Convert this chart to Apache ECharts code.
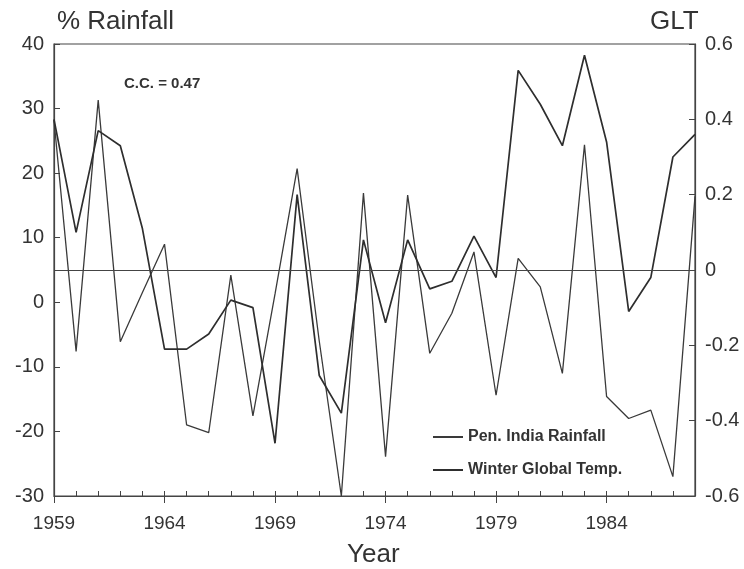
<!DOCTYPE html>
<html>
<head>
<meta charset="utf-8">
<script src="https://cdn.jsdelivr.net/npm/echarts@6/dist/echarts.min.js"></script>
<style>
html,body{margin:0;padding:0;background:#fff;}
#chart{width:744px;height:569px;}
</style>
</head>
<body>
<div id="chart"></div>
<script>
const years = ['1959','1960','1961','1962','1963','1964','1965','1966','1967','1968',
  '1969','1970','1971','1972','1973','1974','1975','1976','1977','1978',
  '1979','1980','1981','1982','1983','1984','1985','1986','1987','1988'];
// Pen. India Rainfall (% departure, left axis)
const rainfall = [28.2, -7.6, 31.3, -6.1, 1.5, 9.0, -19.0, -20.2, 4.2, -17.6,
  1.3, 20.7, -6.0, -30.0, 16.9, -23.9, 16.6, -7.9, -1.7, 7.8,
  -14.4, 6.8, 2.4, -11.0, 24.4, -14.6, -18.0, -16.7, -27.0, 16.4];
// Winter Global Temp. (GLT, right axis)
const glt = [0.40, 0.10, 0.37, 0.33, 0.11, -0.21, -0.21, -0.17, -0.08, -0.10,
  -0.46, 0.20, -0.28, -0.38, 0.08, -0.14, 0.08, -0.05, -0.03, 0.09,
  -0.02, 0.53, 0.44, 0.33, 0.57, 0.34, -0.11, -0.02, 0.30, 0.36];
const seriesNames = ['Pen. India Rainfall', 'Winter Global Temp.'];

const ink = '#333';
const fontReg = "'Liberation Sans', Arial, Helvetica, sans-serif";

const chart = echarts.init(document.getElementById('chart'), null, {renderer: 'canvas'});
chart.setOption({
  backgroundColor: '#ffffff',
  animation: false,
  grid: {left: 54, right: 49, top: 44, bottom: 73, show: true, borderColor: '#444', borderWidth: 1.2, backgroundColor: 'transparent'},
  graphic: [
    {type: 'text', left: 57, top: 9, style: {text: '% Rainfall', font: "26px " + fontReg, fill: ink}},
    {type: 'text', left: 650, top: 9, style: {text: 'GLT', font: "26px " + fontReg, fill: ink}},
    {type: 'text', left: 124, top: 76, style: {text: 'C.C. = 0.47', font: "bold 15px " + fontReg, fill: ink}},
    {type: 'text', left: 347, top: 542, style: {text: 'Year', font: "26px " + fontReg, fill: ink}}
  ],
  legend: {
    orient: 'vertical', left: 428, top: 423,
    itemWidth: 30, itemHeight: 2, itemGap: 15, itemTextGap: 14,
    icon: 'rect',
    data: seriesNames,
    textStyle: {fontFamily: fontReg, fontSize: 16, fontWeight: 'bold', color: ink, lineHeight: 18}
  },
  xAxis: [
    {
      type: 'category', data: years, boundaryGap: false, position: 'bottom',
      axisLine: {show: true, onZero: false, lineStyle: {color: '#444', width: 1.2}},
      axisTick: {show: true, inside: true, interval: 0, length: 5, lineStyle: {color: '#444', width: 1}},
      axisLabel: {show: true, interval: 4, margin: 18, fontFamily: fontReg, fontSize: 19, color: ink},
      splitLine: {show: false}
    },
    {
      type: 'category', data: years, boundaryGap: false, position: 'bottom',
      axisLine: {show: false, onZero: false},
      axisTick: {show: true, inside: false, interval: 4, length: 7, lineStyle: {color: '#444', width: 1}},
      axisLabel: {show: false},
      splitLine: {show: false}
    }
  ],
  yAxis: [
    {
      type: 'value', min: -30, max: 40, interval: 10, position: 'left',
      axisLine: {show: true, onZero: false, lineStyle: {color: '#444', width: 1.2}},
      axisTick: {show: true, inside: true, length: 6, lineStyle: {color: '#444'}},
      axisLabel: {margin: 10, fontFamily: fontReg, fontSize: 20, color: ink},
      splitLine: {show: false}
    },
    {
      type: 'value', min: -0.6, max: 0.6, interval: 0.2, position: 'right',
      axisLine: {show: true, onZero: false, lineStyle: {color: '#444', width: 1.2}},
      axisTick: {show: true, inside: true, length: 6, lineStyle: {color: '#444'}},
      axisLabel: {margin: 10, fontFamily: fontReg, fontSize: 20, color: ink,
        formatter: function (v) { return String(Math.round(v * 10) / 10); }},
      splitLine: {show: false}
    }
  ],
  series: [
    {
      name: seriesNames[0], type: 'line', xAxisIndex: 0, yAxisIndex: 0, data: rainfall,
      symbol: 'none', showSymbol: false,
      lineStyle: {color: '#3a3a3a', width: 1.3},
      itemStyle: {color: '#3a3a3a'}
    },
    {
      name: seriesNames[1], type: 'line', xAxisIndex: 0, yAxisIndex: 1, data: glt,
      symbol: 'none', showSymbol: false,
      lineStyle: {color: '#2e2e2e', width: 1.7},
      itemStyle: {color: '#2e2e2e'},
      markLine: {
        silent: true, symbol: ['none', 'none'], label: {show: false},
        lineStyle: {type: 'solid', color: '#444', width: 1.2},
        data: [{yAxis: 0}]
      }
    }
  ]
});
</script>
</body>
</html>
